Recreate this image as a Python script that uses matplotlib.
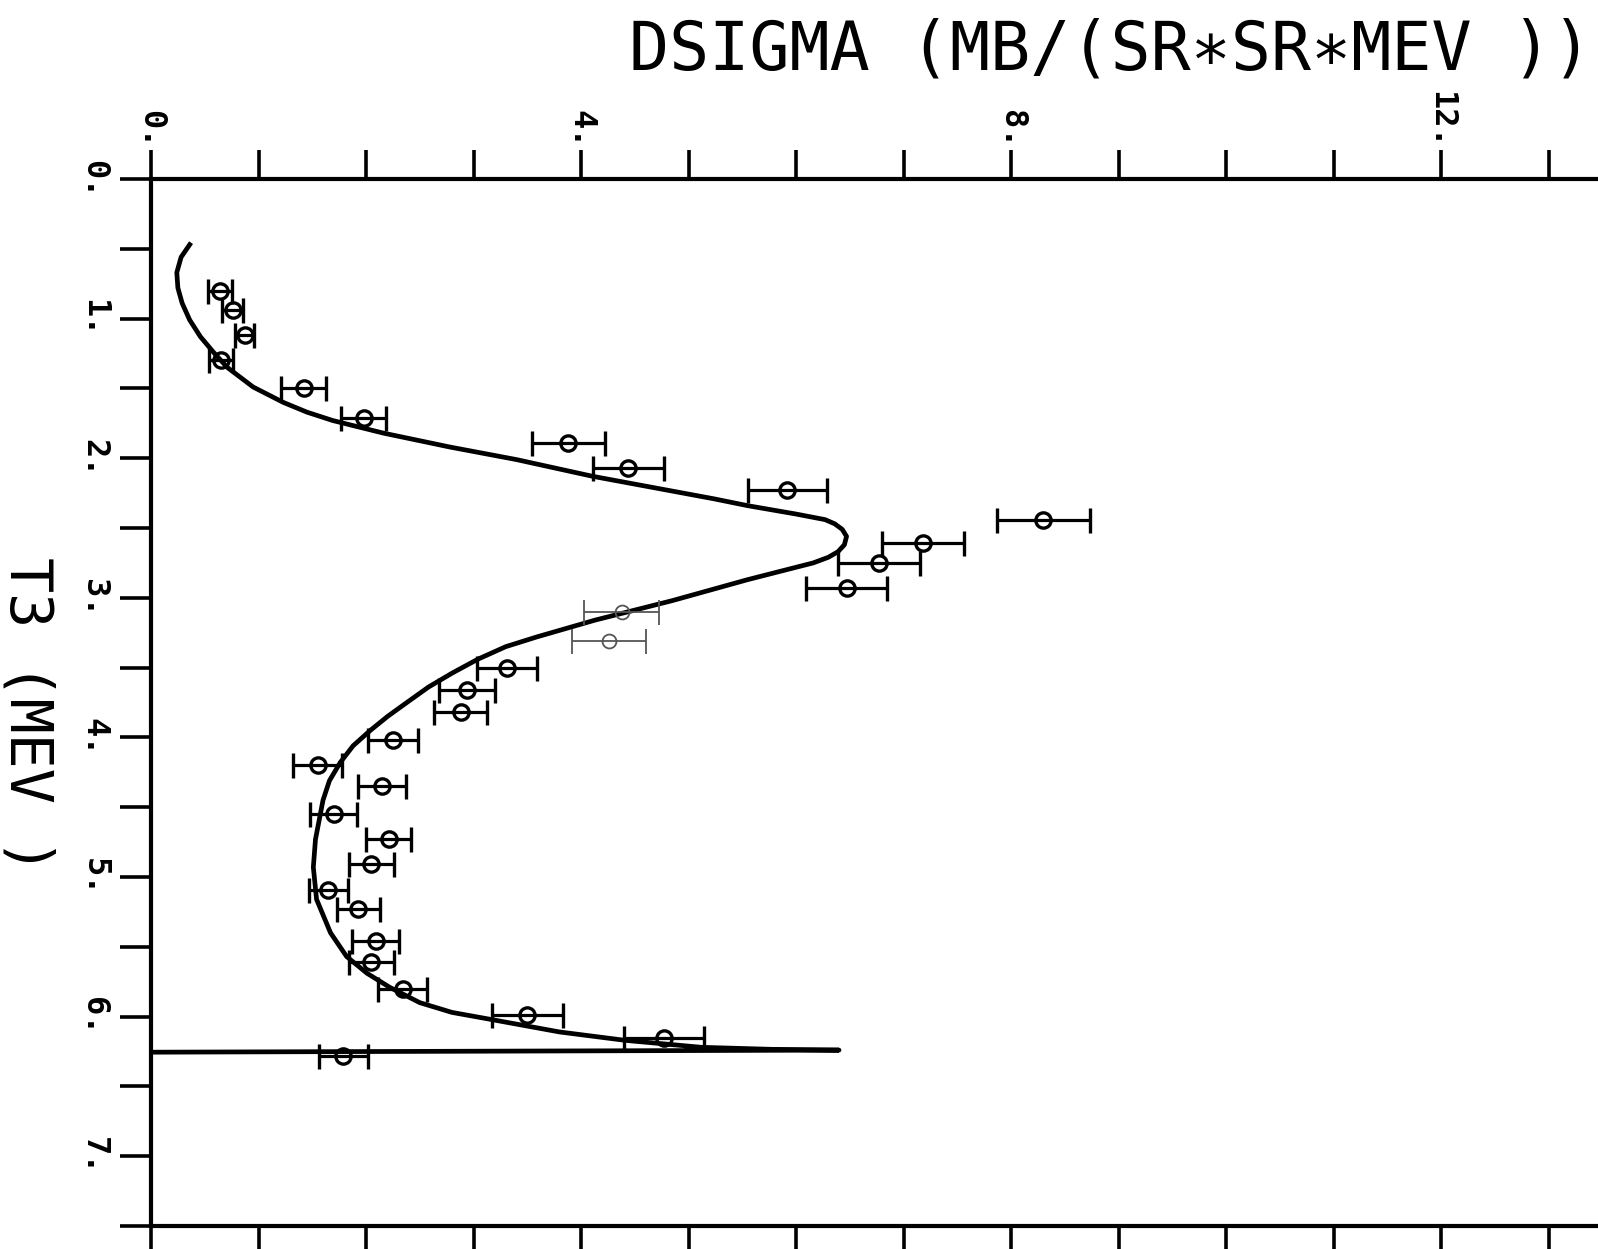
import numpy as np
import matplotlib.pyplot as plt

# measured cross section: T3 (MeV), dsigma and its error
t3 = [0.80, 0.94, 1.12, 1.30, 1.50, 1.71, 1.89, 2.07, 2.23, 2.44, 2.61, 2.75,
      2.93, 3.50, 3.66, 3.82, 4.02, 4.20, 4.35, 4.55, 4.73, 4.91,
      5.09, 5.23, 5.46, 5.61, 5.80, 5.99, 6.15, 6.28]
dsig = [0.64, 0.76, 0.87, 0.65, 1.42, 1.98, 3.88, 4.44, 5.92, 8.30, 7.18, 6.77,
        6.47, 3.31, 2.94, 2.88, 2.25, 1.55, 2.15, 1.70, 2.21, 2.05,
        1.65, 1.93, 2.09, 2.05, 2.34, 3.50, 4.77, 1.79]
dsig_err = [0.11, 0.10, 0.09, 0.11, 0.21, 0.21, 0.34, 0.33, 0.37, 0.43, 0.38, 0.38,
            0.38, 0.28, 0.26, 0.25, 0.23, 0.23, 0.22, 0.22, 0.21, 0.21,
            0.18, 0.20, 0.22, 0.21, 0.23, 0.33, 0.37, 0.23]

# two points printed faintly
t3_faint = [3.10, 3.31]
dsig_faint = [4.38, 4.26]
err_faint = [0.35, 0.34]

# calculated curve (dsigma, T3) including the closing line back to the axis
curve_x = [0.36, 0.28, 0.24, 0.25, 0.29, 0.36, 0.46, 0.58, 0.71, 0.95, 1.23, 1.45,
           1.69, 2.16, 2.78, 3.40, 4.11, 5.23, 5.55, 6.00, 6.27, 6.36, 6.43, 6.47,
           6.45, 6.39, 6.30, 6.16, 5.55, 4.85, 4.13, 3.59, 3.30, 3.04, 2.80, 2.58,
           2.38, 2.20, 2.04, 1.88, 1.76, 1.66, 1.60, 1.53, 1.51, 1.54, 1.67, 1.82,
           2.01, 2.22, 2.50, 2.80, 3.16, 3.80, 4.41, 5.12, 5.80, 6.40, 0.0]
curve_t3 = [0.47, 0.56, 0.67, 0.78, 0.89, 1.01, 1.13, 1.24, 1.35, 1.49, 1.60, 1.67,
            1.73, 1.82, 1.92, 2.01, 2.13, 2.29, 2.34, 2.40, 2.44, 2.47, 2.51, 2.56,
            2.62, 2.67, 2.71, 2.75, 2.87, 3.02, 3.16, 3.28, 3.35, 3.44, 3.54, 3.64,
            3.75, 3.85, 3.95, 4.06, 4.18, 4.31, 4.45, 4.73, 4.93, 5.16, 5.40, 5.57,
            5.69, 5.79, 5.90, 5.97, 6.02, 6.11, 6.17, 6.22, 6.235, 6.24, 6.255]

xticks = np.arange(0, 14)
xlabels = ['0.', '', '', '', '4.', '', '', '', '8.', '', '', '', '12.', '']
yticks = np.arange(0, 7.51, 0.5)
ylabels = ['0.', '', '1.', '', '2.', '', '3.', '', '4.', '', '5.', '', '6.', '', '7.', '']

mono = 'DejaVu Sans Mono'

fig = plt.figure(figsize=(15.98, 12.49), dpi=100)
ax = fig.add_axes([151/1598, 23/1249, 1447/1598, 1047/1249])

ax.plot(curve_x, curve_t3, color='black', lw=3.4, solid_joinstyle='round')
ax.errorbar(dsig, t3, xerr=dsig_err, fmt='o', ms=11, mfc='none', mec='black',
            mew=2.4, ecolor='black', elinewidth=2.3, capsize=9, capthick=2.3)
ax.errorbar(dsig_faint, t3_faint, xerr=err_faint, fmt='o', ms=10, mfc='none',
            mec='#555555', mew=1.3, ecolor='#555555', elinewidth=1.3,
            capsize=9, capthick=1.3)

ax.set_xlim(0, 13.46)
ax.set_ylim(7.5, 0)

ax.set_xticks(xticks)
ax.set_xticklabels(xlabels, rotation=270, fontfamily=mono, fontsize=23,
                   fontweight='bold')
ax.set_yticks(yticks)
ax.set_yticklabels(ylabels, rotation=270, fontfamily=mono, fontsize=23,
                   fontweight='bold', va='center')
ax.tick_params(axis='x', top=True, bottom=True, labeltop=True, labelbottom=False,
               direction='out', length=21, width=2.6, pad=1)
ax.tick_params(axis='y', direction='out', length=22, width=2.6, pad=8)

for side in ['top', 'bottom', 'left']:
    ax.spines[side].set_linewidth(3)
ax.spines['right'].set_visible(False)

fig.text(1592/1598, 1 - 17/1249, 'DSIGMA (MB/(SR\u2217SR\u2217MEV ))', ha='right',
         va='top', fontsize=48, fontfamily=mono)
fig.text(27/1598, 1 - 715/1249, 'T3 (MEV )', rotation=270, ha='center',
         va='center', fontsize=42, fontfamily=mono)

fig.savefig('out.png', dpi=100)
